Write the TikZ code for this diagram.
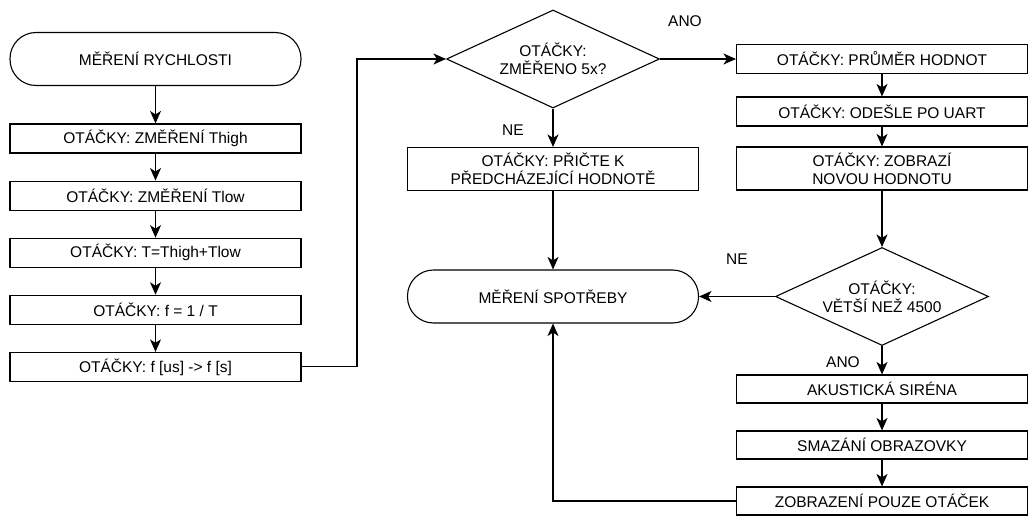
\documentclass[tikz,border=0pt]{standalone}
\usepackage{fontspec}
\setmainfont{Liberation Sans}
\usepackage{tikz}
\usetikzlibrary{positioning}
\usetikzlibrary{shapes}
\usetikzlibrary{arrows.meta}

\tikzset{
    every node/.style = {font=\fontsize{15.5}{18}\selectfont},
    box/.style = {draw, rectangle, line width = 1.1, minimum width = 291, minimum height = 29, inner sep = 0, align = center},
    tall/.style = {box, minimum height = 43},
    term/.style = {draw, rectangle, rounded corners = 26, line width = 1.1, minimum width = 291, minimum height = 53, inner sep = 0},
    decision/.style = {draw, diamond, aspect = 2.2, line width = 1.1, minimum width = 213, minimum height = 98, inner sep = 0, align = center},
    arr/.style = {-{Stealth[length = 12.5, width = 11, inset = 3.5]}, line width = 1.1},
}

\begin{document}
\begin{tikzpicture}[x = 1pt, y = -1pt]
    \useasboundingbox (0,0) rectangle (1030,516);
    % nodes %
    \node[term] (start) at (155.5,59) {MĚŘENÍ RYCHLOSTI};
    \node[box] (thigh) at (155.5,138.5) {OTÁČKY: ZMĚŘENÍ Thigh};
    \node[box, below = 27pt of thigh] (tlow) {OTÁČKY: ZMĚŘENÍ Tlow};
    \node[box, below = 27pt of tlow] (tsum) {OTÁČKY: T=Thigh+Tlow};
    \node[box, below = 27pt of tsum] (freq) {OTÁČKY: f = 1 / T};
    \node[box, below = 27pt of freq] (conv) {OTÁČKY: f [us] -> f [s]};
    \node[decision] (count) at (553,59) {OTÁČKY:\\ZMĚŘENO 5x?};
    \node[tall] (add) at (553,169) {OTÁČKY: PŘIČTE K\\PŘEDCHÁZEJÍCÍ HODNOTĚ};
    \node[term] (power) at (553,296.5) {MĚŘENÍ SPOTŘEBY};
    \node[box] (avg) at (882,59) {OTÁČKY: PRŮMĚR HODNOT};
    \node[box] (uart) at (882,111.5) {OTÁČKY: ODEŠLE PO UART};
    \node[tall] (show) at (882,168.5) {OTÁČKY: ZOBRAZÍ\\NOVOU HODNOTU};
    \node[decision] (limit) at (882,296.5) {OTÁČKY:\\VĚTŠÍ NEŽ 4500};
    \node[box, minimum height = 28] (siren) at (882,389) {AKUSTICKÁ SIRÉNA};
    \node[box, minimum height = 28] (clear) at (882,445) {SMAZÁNÍ OBRAZOVKY};
    \node[box, minimum height = 28] (rpm) at (882,501) {ZOBRAZENÍ POUZE OTÁČEK};
    % labels %
    \node (yes1) at (685,21) {ANO};
    \node (no1) at (513,130) {NE};
    \node (no2) at (737,259) {NE};
    \node (yes2) at (843,362) {ANO};
    \coordinate (up) at (357,59);
    % edges %
    \draw[arr] (start) -- (thigh);
    \draw[arr] (thigh) -- (tlow);
    \draw[arr] (tlow) -- (tsum);
    \draw[arr] (tsum) -- (freq);
    \draw[arr] (freq) -- (conv);
    \draw[arr] (conv.east) -| (up) -- (count.west);
    \draw[arr] (count.east) -- (avg.west);
    \draw[arr] (count.south) -- (add.north);
    \draw[arr] (add.south) -- (power.north);
    \draw[arr] (avg) -- (uart);
    \draw[arr] (uart) -- (show);
    \draw[arr] (show.south) -- (limit.north);
    \draw[arr] (limit.west) -- (power.east);
    \draw[arr] (limit.south) -- (siren.north);
    \draw[arr] (siren) -- (clear);
    \draw[arr] (clear) -- (rpm);
    \draw[arr] (rpm.west) -| (power.south);
\end{tikzpicture}
\end{document}
